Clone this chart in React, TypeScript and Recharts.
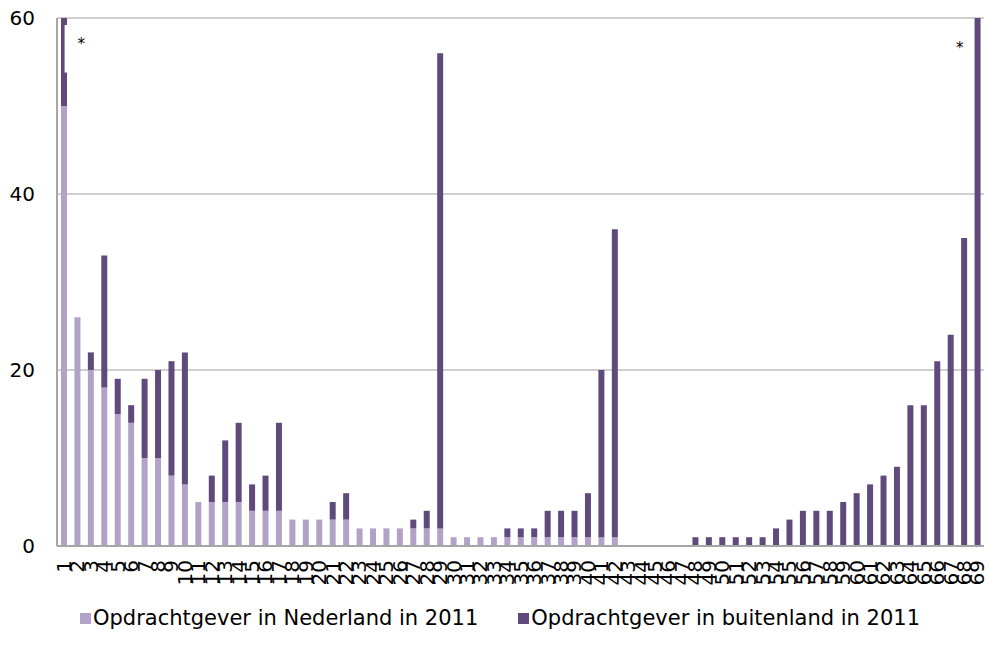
import React from 'react';
import { BarChart, Bar, XAxis, YAxis, CartesianGrid, Legend, ReferenceDot, Rectangle } from 'recharts';

const categories: string[] = Array.from({ length: 69 }, (_, i) => String(i + 1));

const nederland: number[] = [
  50, 26, 20, 18, 15, 14, 10, 10, 8, 7,
  5, 5, 5, 5, 4, 4, 4, 3, 3, 3,
  3, 3, 2, 2, 2, 2, 2, 2, 2, 1,
  1, 1, 1, 1, 1, 1, 1, 1, 1, 1,
  1, 1, 0, 0, 0, 0, 0, 0, 0, 0,
  0, 0, 0, 0, 0, 0, 0, 0, 0, 0,
  0, 0, 0, 0, 0, 0, 0, 0, 0,
];

const buitenland: number[] = [
  20, 0, 2, 15, 4, 2, 9, 10, 13, 15,
  0, 3, 7, 9, 3, 4, 10, 0, 0, 0,
  2, 3, 0, 0, 0, 0, 1, 2, 54, 0,
  0, 0, 0, 1, 1, 1, 3, 3, 3, 5,
  19, 35, 0, 0, 0, 0, 0, 1, 1, 1,
  1, 1, 1, 2, 3, 4, 4, 4, 5, 6,
  7, 8, 9, 16, 16, 21, 24, 35, 70,
];

const yTicks: number[] = [0, 20, 40, 60];

const seriesNames = ['Opdrachtgever in Nederland in 2011', 'Opdrachtgever in buitenland in 2011'];
const seriesColors = ['#b3a2c7', '#604a7b'];

// asterisk markers: category and value where they sit
const asteriskCats: string[] = ['2', '68'];
const asteriskVals: number[] = [57.0, 56.6];

// axis-break mark on the first bar (value range of the gap)
const breakRange: number[] = [53.8, 59.2];

const data = categories.map((c, i) => ({ cat: c, nl: nederland[i], bl: buitenland[i] }));

const FONT = '"DejaVu Sans", Verdana, sans-serif';
const Y_MAX = yTicks[yTicks.length - 1];

const XTick = (props: any) => {
  const { x, y, payload } = props;
  return (
    <g transform={`translate(${x},${y})`}>
      <text transform="rotate(-90)" textAnchor="end" dy="0.36em" fontSize={20} fontFamily={FONT} fill="#000">
        {payload.value}
      </text>
    </g>
  );
};

const AsteriskLabel = (props: any) => {
  const vb = props.viewBox || {};
  const shift = props.shift || 0;
  const cx = (vb.x || 0) + (vb.width || 0) / 2;
  const cy = (vb.y || 0) + (vb.height || 0) / 2;
  return (
    <text x={cx + shift} y={cy} textAnchor="middle" dominantBaseline="central" fontSize={15} fontFamily={FONT} fill="#000">
      *
    </text>
  );
};

const BreakBar = (props: any) => {
  const { x, y, width, height, fill, index, background } = props;
  const rect = <Rectangle x={x} y={y} width={width} height={height} fill={fill} />;
  if (index !== 0 || !height || !background) return rect;
  const yFor = (v: number) => background.y + background.height * (1 - v / Y_MAX);
  const gTop = yFor(breakRange[1]);
  const gBot = yFor(breakRange[0]);
  return (
    <g>
      {rect}
      <rect x={x + width * 0.6} y={gTop} width={width * 0.4} height={gBot - gTop} fill="#fff" />
    </g>
  );
};

const LegendContent = () => (
  <div
    style={{
      display: 'flex',
      justifyContent: 'center',
      alignItems: 'center',
      height: 30,
      paddingLeft: 16,
      fontFamily: FONT,
      fontSize: 21,
      color: '#000',
      whiteSpace: 'nowrap',
    }}
  >
    {seriesNames.map((n, i) => (
      <div key={n} style={{ display: 'flex', alignItems: 'center', marginRight: i === 0 ? 40 : 0 }}>
        <span style={{ display: 'inline-block', width: 11, height: 11, background: seriesColors[i], marginRight: 2 }} />
        <span>{n}</span>
      </div>
    ))}
  </div>
);

const asteriskShift = [4, -4];

export default function App() {
  return (
    <div style={{ position: 'absolute', left: 0, top: 0, width: 989, height: 647, overflow: 'hidden', background: '#fff' }}>
      <BarChart
        width={989}
        height={647}
        data={data}
        margin={{ top: 18, right: 5, left: 0, bottom: 14 }}
        barSize={6}
        barGap={0}
      >
        <CartesianGrid vertical={false} stroke="#bfbfbf" strokeWidth={1.5} />
        <XAxis
          dataKey="cat"
          interval={0}
          tick={<XTick />}
          tickLine={false}
          tickMargin={8}
          axisLine={{ stroke: '#a6a6a6', strokeWidth: 2 }}
          height={57}
        />
        <YAxis
          domain={[0, Y_MAX]}
          ticks={yTicks}
          allowDataOverflow
          width={57}
          tickLine={false}
          tickMargin={16}
          axisLine={{ stroke: '#a6a6a6', strokeWidth: 2 }}
          tick={{ fontSize: 20, fill: '#000', fontFamily: FONT }}
        />
        <Legend verticalAlign="bottom" content={<LegendContent />} />
        <Bar dataKey="nl" name={seriesNames[0]} stackId="a" fill={seriesColors[0]} isAnimationActive={false} />
        <Bar dataKey="bl" name={seriesNames[1]} stackId="a" fill={seriesColors[1]} isAnimationActive={false} shape={<BreakBar />} />
        {asteriskCats.map((c, i) => (
          <ReferenceDot key={c} x={c} y={asteriskVals[i]} r={0} fill="none" stroke="none" label={<AsteriskLabel shift={asteriskShift[i]} />} />
        ))}
      </BarChart>
    </div>
  );
}
